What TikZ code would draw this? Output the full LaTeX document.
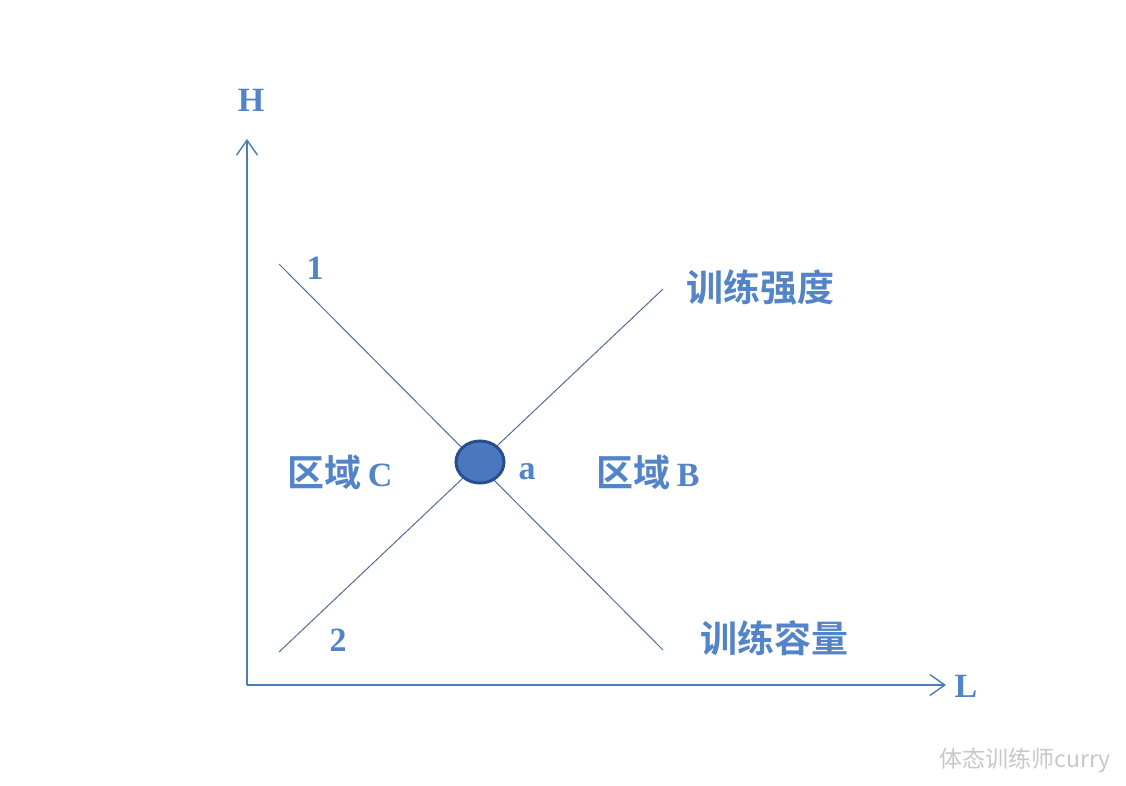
\documentclass[tikz,border=0pt]{standalone}
\usepackage{fontspec}
\setmainfont{Liberation Serif}
\newfontfamily\cjk{Noto Sans CJK SC}
\newfontfamily\cjkb{Noto Sans CJK SC Bold}
\definecolor{txtblue}{RGB}{84,132,200}
\definecolor{axisblue}{RGB}{74,126,187}
\definecolor{lineblue}{RGB}{80,110,150}
\definecolor{dotfill}{RGB}{74,120,192}
\definecolor{dotedge}{RGB}{40,78,140}
\definecolor{wm}{RGB}{200,200,200}
\usetikzlibrary{arrows.meta,shapes.geometric}
\tikzset{
  axis/.style={draw=axisblue, line width=1.6pt, -{Straight Barb[length=15pt,width=21pt,line width=1.4pt]}},
  diag/.style={draw=lineblue, line width=1pt},
  lbl/.style={text=txtblue, font=\bfseries\fontsize{34}{36}\selectfont, inner sep=0pt},
  cn/.style={text=txtblue, font=\cjkb\fontsize{37}{39}\selectfont, inner sep=0pt},
}
\begin{document}
\begin{tikzpicture}[x=1pt,y=-1pt]
\useasboundingbox[fill=white] (0,0) rectangle (1126,786);
\coordinate (O) at (247,685);
\coordinate (Htip) at (247,139);
\coordinate (Ltip) at (946,685);
\draw[axis] (O) -- (Htip);
\draw[axis] (O) -- (Ltip);
\coordinate (d1s) at (279,264);
\coordinate (d1e) at (663,650);
\coordinate (d2s) at (279,652);
\coordinate (d2e) at (663,289);
\draw[diag] (d1s) -- (d1e);
\draw[diag] (d2s) -- (d2e);
\node[ellipse, draw=dotedge, line width=3pt, fill=dotfill, minimum width=48pt, minimum height=42pt, inner sep=0pt] (a) at (480,462) {};
\node[lbl] (H) at (251,100) {H};
\node[lbl] (L) at (966,686) {L};
\node[lbl] (one) at (315,268) {1};
\node[lbl] (two) at (338,640) {2};
\node[lbl] (alab) at (527,472) {a};
\node[cn] (qdC) at (340,472) {区域\,{\fontspec{Liberation Serif}\bfseries\fontsize{34}{36}\selectfont C}};
\node[cn] (qdB) at (648,472) {区域\,{\fontspec{Liberation Serif}\bfseries\fontsize{34}{36}\selectfont B}};
\node[cn] (qd) at (760,287) {训练强度};
\node[cn] (rl) at (774,638) {训练容量};
\node[text=wm, font=\cjk\fontsize{23}{25}\selectfont, inner sep=0pt] (wmk) at (1025,760) {体态训练师curry};
\end{tikzpicture}
\end{document}
